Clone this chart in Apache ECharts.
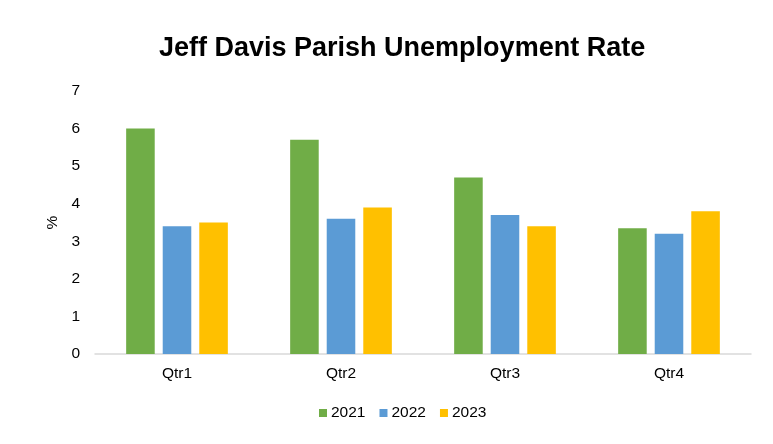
<!DOCTYPE html>
<html>
<head>
<meta charset="utf-8">
<script src="https://cdn.jsdelivr.net/npm/echarts@6/dist/echarts.min.js"></script>
<style>
  body { margin: 0; background: #fff; }
  #chart { width: 773px; height: 444px; }
</style>
</head>
<body>
<div id="chart"></div>
<script>
// 数据
const quarters = ['Qtr1', 'Qtr2', 'Qtr3', 'Qtr4']
const years = ['2021', '2022', '2023']
const rate2021 = [6.0, 5.7, 4.7, 3.35]
const rate2022 = [3.4, 3.6, 3.7, 3.2]
const rate2023 = [3.5, 3.9, 3.4, 3.8]
const colors = ['#70ad47', '#5b9bd5', '#ffc000']

const font = 'Liberation Sans, Arial, sans-serif'
let myChart = echarts.init(document.getElementById('chart'))

const makeSeries = function (name, data, i) {
  return {
    name: name,
    type: 'bar',
    data: data,
    barGap: '28%',
    barCategoryGap: '38%',
    itemStyle: { color: colors[i] }
  }
}

let option = {
  animation: false,
  textStyle: { fontFamily: font },
  title: {
    text: 'Jeff Davis Parish Unemployment Rate',
    left: 154,
    top: 30,
    textStyle: { fontSize: 27, fontWeight: 'bold', color: '#000', fontFamily: font }
  },
  legend: {
    bottom: 18,
    left: 314,
    itemWidth: 8,
    itemHeight: 8,
    itemGap: 14,
    icon: 'rect',
    textStyle: { fontSize: 15.5, color: '#000', fontFamily: font, padding: [0, 0, 0, -1] }
  },
  grid: { left: 95, right: 22, top: 91, bottom: 90 },
  xAxis: {
    type: 'category',
    data: quarters,
    axisTick: { show: false },
    axisLine: { lineStyle: { color: '#d9d9d9', width: 1.5 } },
    axisLabel: { color: '#000', fontSize: 15.5, margin: 12 }
  },
  yAxis: {
    type: 'value',
    min: 0,
    max: 7,
    interval: 1,
    name: '%',
    nameLocation: 'middle',
    nameGap: 31,
    nameRotate: 90,
    nameTextStyle: { color: '#000', fontSize: 15.5 },
    splitLine: { show: false },
    axisLine: { show: false },
    axisLabel: { color: '#000', fontSize: 15.5, margin: 15 }
  },
  series: [
    makeSeries(years[0], rate2021, 0),
    makeSeries(years[1], rate2022, 1),
    makeSeries(years[2], rate2023, 2)
  ]
}
myChart.setOption(option)
</script>
</body>
</html>
